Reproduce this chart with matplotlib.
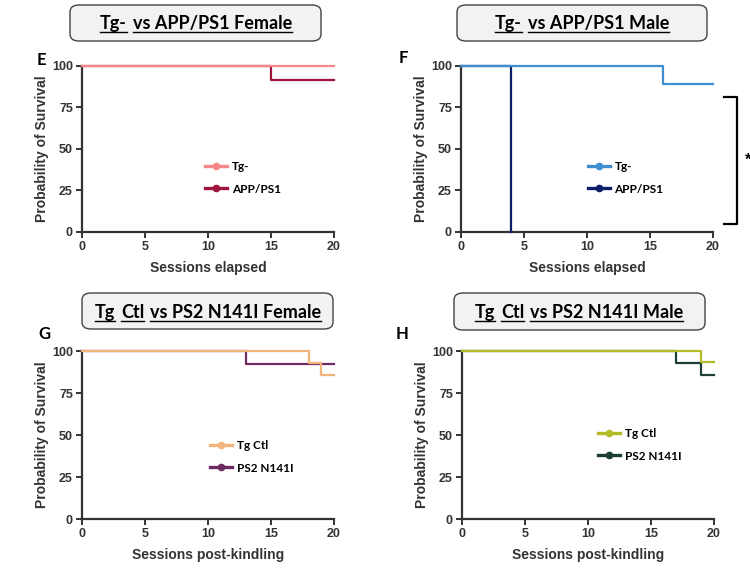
#!/usr/bin/env python3
"""Kaplan-Meier style survival panels E-H."""

import matplotlib
matplotlib.use("Agg")
import matplotlib.pyplot as plt
from matplotlib.patches import FancyBboxPatch
from matplotlib.lines import Line2D

# ---- data (sessions, % survival), step post ----
E_TG_X = [0, 20]
E_TG_Y = [100, 100]
E_APP_X = [0, 15, 20]
E_APP_Y = [100, 91.7, 91.7]

F_TG_X = [0, 16, 20]
F_TG_Y = [100, 88.9, 88.9]
F_APP_X = [0, 4]
F_APP_Y = [100, 0]

G_CTL_X = [0, 18, 19, 20]
G_CTL_Y = [100, 92.9, 85.7, 85.7]
G_PS2_X = [0, 13, 20]
G_PS2_Y = [100, 92.3, 92.3]

H_CTL_X = [0, 19, 20]
H_CTL_Y = [100, 93.3, 93.3]
H_PS2_X = [0, 17, 19, 20]
H_PS2_Y = [100, 92.9, 85.7, 85.7]

X_TICKS = [0, 5, 10, 15, 20]
Y_TICKS = [0, 25, 50, 75, 100]

W, H = 750, 569
AX_COLOR = "#333333"
TITLE_FONT = "Lato"
TICK_FONT = "Liberation Sans"

plt.rcParams["font.family"] = [TICK_FONT, "DejaVu Sans"]


def fx(px):
    return px / W


def fy(py):
    return 1 - py / H


def draw_title(fig, pieces, cx, cy, box):
    # rounded grey box
    x0, y0, x1, y1 = box
    fig.patches.append(FancyBboxPatch(
        (fx(x0), fy(y1)), fx(x1 - x0), (y1 - y0) / H,
        boxstyle="round,pad=0,rounding_size=0.012",
        transform=fig.transFigure, facecolor="#f2f2f2",
        edgecolor="#444444", linewidth=1.0))
    renderer = fig.canvas.get_renderer()
    texts = []
    widths = []
    for word in pieces:
        t = fig.text(0, 0, word, fontsize=13, fontweight="bold",
                     family=TITLE_FONT, va="baseline", ha="left")
        bb = t.get_window_extent(renderer=renderer)
        texts.append(t)
        widths.append(bb.width)
    space = 5.5
    total = sum(widths) + space * (len(pieces) - 1)
    x = cx - total / 2
    for t, w in zip(texts, widths):
        t.set_position((fx(x), fy(cy)))
        fig.add_artist(Line2D([fx(x), fx(x + w)], [fy(cy + 3), fy(cy + 3)],
                              transform=fig.transFigure, color="black",
                              linewidth=1.0))
        x += w + space


def style_axes(ax, xlabel):
    ax.set_xlim(0, 20)
    ax.set_ylim(0, 100)
    ax.set_xticks(X_TICKS)
    ax.set_yticks(Y_TICKS)
    for side in ["top", "right"]:
        ax.spines[side].set_visible(False)
    for side in ["left", "bottom"]:
        ax.spines[side].set_linewidth(1.6)
        ax.spines[side].set_color(AX_COLOR)
    ax.tick_params(axis="both", direction="out", length=4.5, width=1.4,
                   color=AX_COLOR, labelsize=9, labelcolor=AX_COLOR, pad=2)
    for lbl in ax.get_xticklabels() + ax.get_yticklabels():
        lbl.set_fontweight("bold")
    ax.set_xlabel(xlabel, fontsize=10, fontweight="bold", color=AX_COLOR, labelpad=6)
    ax.set_ylabel("Probability of Survival", fontsize=10, fontweight="bold",
                  color=AX_COLOR, labelpad=2)


def draw_panel(fig, rect, series, xlabel, letter, letter_px, legend_anchor):
    ax = fig.add_axes(rect)
    handles = []
    for i, (xs, ys, label, color) in enumerate(series):
        ax.step(xs, ys, where="post", color=color, linewidth=1.6,
                clip_on=False, zorder=10 - i)
        handles.append(Line2D([0], [0], color=color, linewidth=2.4,
                              marker="o", markersize=4.5, label=label))
    style_axes(ax, xlabel)
    ax.legend(handles=handles, loc="center left", bbox_to_anchor=legend_anchor,
              frameon=False, handlelength=1.9, handletextpad=0.35,
              labelspacing=0.95, borderpad=0, borderaxespad=0,
              prop={"family": TITLE_FONT, "weight": "bold", "size": 8.5})
    fig.text(fx(letter_px[0]), fy(letter_px[1]), letter, fontsize=12,
             fontweight="bold", family=TITLE_FONT, ha="center", va="center")
    return ax


def main():
    fig = plt.figure(figsize=(W / 100, H / 100), dpi=100)

    top_rect_y = fy(232)
    top_h = 166 / H
    bot_rect_y = fy(519)
    bot_h = 168 / H
    width = 252 / W

    # legend anchors: (left of handle, vertical centre) in axes fractions
    draw_panel(fig, [fx(82), top_rect_y, width, top_h],
               [(E_TG_X, E_TG_Y, "Tg-", "#f4878a"),
                (E_APP_X, E_APP_Y, "APP/PS1", "#a0143c")],
               "Sessions elapsed", "E", (41, 60), ((205 - 82) / 252, (232 - 178) / 166))
    ax_f = draw_panel(fig, [fx(461), top_rect_y, width, top_h],
                      [(F_TG_X, F_TG_Y, "Tg-", "#3d8fd1"),
                       (F_APP_X, F_APP_Y, "APP/PS1", "#0d1f66")],
                      "Sessions elapsed", "F", (403, 58), ((588 - 461) / 252, (232 - 178) / 166))
    draw_panel(fig, [fx(82), bot_rect_y, width, bot_h],
               [(G_CTL_X, G_CTL_Y, "Tg Ctl", "#f3b47c"),
                (G_PS2_X, G_PS2_Y, "PS2 N141I", "#6e2d62")],
               "Sessions post-kindling", "G", (44, 334), ((210 - 82) / 252, (519 - 457) / 168))
    draw_panel(fig, [fx(462), bot_rect_y, width, bot_h],
               [(H_CTL_X, H_CTL_Y, "Tg Ctl", "#b3bb26"),
                (H_PS2_X, H_PS2_Y, "PS2 N141I", "#1d3f35")],
               "Sessions post-kindling", "H", (402, 334), ((598 - 462) / 252, (519 - 445) / 168))

    # significance bracket on panel F
    ax_f.plot([20.9, 21.9, 21.9, 20.9], [81.3, 81.3, 4.8, 4.8],
              color="black", linewidth=1.6, clip_on=False)
    ax_f.text(22.5, 43, "*", fontsize=12, fontweight="bold", ha="left",
              va="center", clip_on=False)

    draw_title(fig, ["Tg-", "vs APP/PS1 Female"], 196, 29, (70, 5, 321, 41))
    draw_title(fig, ["Tg-", "vs APP/PS1 Male"], 582, 29, (457, 5, 707, 41))
    draw_title(fig, ["Tg", "Ctl", "vs PS2 N141I Female"], 208, 318, (82, 293, 333, 329))
    draw_title(fig, ["Tg", "Ctl", "vs PS2 N141I Male"], 579, 318, (454, 293, 705, 330))

    fig.savefig("out.png", dpi=100, facecolor="white")


if __name__ == "__main__":
    main()
